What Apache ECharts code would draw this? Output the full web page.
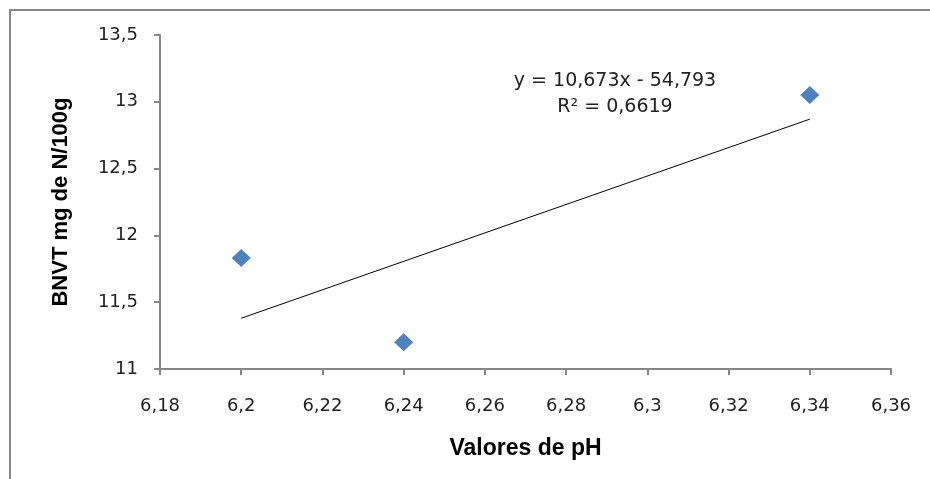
<!DOCTYPE html>
<html>
<head>
<meta charset="utf-8">
<script src="https://cdn.jsdelivr.net/npm/echarts@6/dist/echarts.min.js"></script>
<style>html,body{margin:0;padding:0;background:#fff}#c{width:930px;height:479px}</style>
</head>
<body>
<div id="c"></div>
<script>
var pointsX = [6.20, 6.24, 6.34];
var pointsY = [11.83, 11.20, 13.05];
var trendX = [6.20, 6.34];
var trendY = [11.38, 12.87];
var xTicks = [6.18, 6.20, 6.22, 6.24, 6.26, 6.28, 6.30, 6.32, 6.34, 6.36];
var yTicks = [11, 11.5, 12, 12.5, 13, 13.5];
var equationText = 'y = 10,673x - 54,793';
var r2Text = 'R² = 0,6619';
var xTitle = 'Valores de pH';
var yTitle = 'BNVT mg de N/100g';

function fmt(v) {
  var s = (Math.round(v * 1000) / 1000).toString();
  return s.replace('.', ',');
}

var chart = echarts.init(document.getElementById('c'), null, {renderer: 'canvas'});
chart.setOption({
  animation: false,
  backgroundColor: '#fff',
  grid: {left: 160, right: 39, top: 35, bottom: 110},
  xAxis: {
    type: 'value',
    min: xTicks[0], max: xTicks[xTicks.length - 1], interval: 0.02,
    splitLine: {show: false},
    axisLine: {lineStyle: {color: '#868686', width: 2}},
    axisTick: {length: 6, lineStyle: {color: '#868686', width: 2}},
    axisLabel: {margin: 28, formatter: fmt, fontFamily: 'DejaVu Sans', fontSize: 18, color: '#222'},
    name: xTitle, nameLocation: 'middle', nameGap: 68,
    nameTextStyle: {fontFamily: 'Liberation Sans', fontWeight: 'bold', fontSize: 23, color: '#000'}
  },
  yAxis: {
    type: 'value',
    min: yTicks[0], max: yTicks[yTicks.length - 1], interval: 0.5,
    splitLine: {show: false},
    axisLine: {show: true, lineStyle: {color: '#868686', width: 2}},
    axisTick: {show: true, length: 6, lineStyle: {color: '#868686', width: 2}},
    axisLabel: {margin: 22, formatter: fmt, fontFamily: 'DejaVu Sans', fontSize: 18, color: '#222'},
    name: yTitle, nameLocation: 'middle', nameGap: 88, nameRotate: 90,
    nameTextStyle: {fontFamily: 'Liberation Sans', fontWeight: 'bold', fontSize: 22, color: '#000'}
  },
  series: [
    {
      type: 'line',
      data: trendX.map(function (x, i) { return [x, trendY[i]]; }),
      showSymbol: false,
      lineStyle: {color: '#000', width: 1},
      z: 2
    },
    {
      type: 'scatter',
      data: pointsX.map(function (x, i) { return [x, pointsY[i]]; }),
      symbol: 'diamond',
      symbolSize: [19, 18],
      itemStyle: {color: '#4F81BD', opacity: 1},
      z: 3
    }
  ],
  graphic: [
    {type: 'rect', shape: {x: 10, y: 10, width: 940, height: 500}, style: {fill: 'none', stroke: '#888', lineWidth: 2}, silent: true},
    {type: 'text', x: 615, y: 81, style: {text: equationText, font: '19px "DejaVu Sans"', fill: '#222', textAlign: 'center', textVerticalAlign: 'middle'}},
    {type: 'text', x: 615, y: 107, style: {text: r2Text, font: '19px "DejaVu Sans"', fill: '#222', textAlign: 'center', textVerticalAlign: 'middle'}}
  ]
});
</script>
</body>
</html>
